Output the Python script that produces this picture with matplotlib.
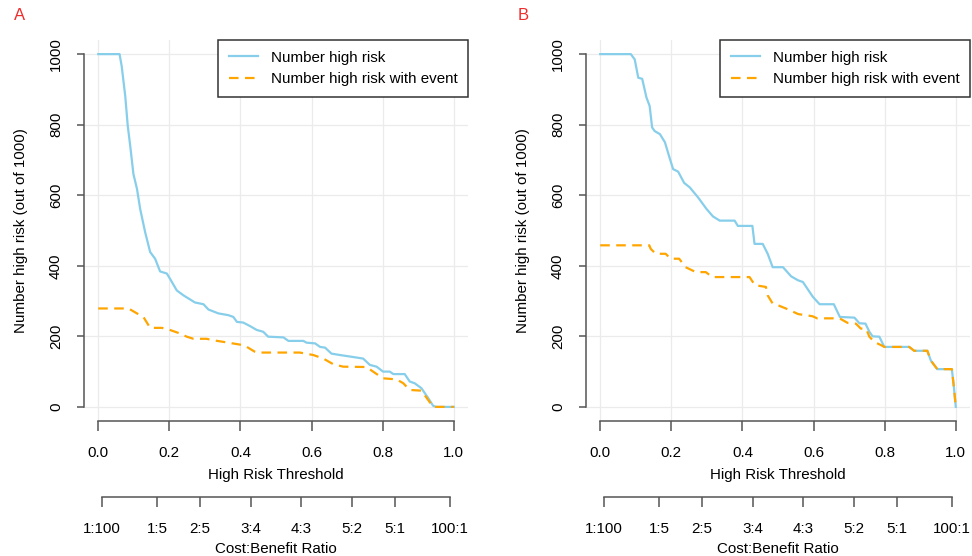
import matplotlib
matplotlib.use("Agg")
import matplotlib.pyplot as plt

plt.rcParams["font.family"] = ["Liberation Sans", "DejaVu Sans"]
plt.rcParams["font.size"] = 10.9

# Panel A: number high risk / with event (out of 1000) vs threshold
thr_a_risk = [0, 0.060, 0.066, 0.076, 0.083, 0.090, 0.099, 0.109, 0.118, 0.132, 0.146, 0.160,
              0.174, 0.193, 0.202, 0.221, 0.240, 0.272, 0.296, 0.310, 0.338, 0.366, 0.380, 0.390,
              0.408, 0.427, 0.446, 0.464, 0.478, 0.521, 0.535, 0.577, 0.586, 0.610, 0.624, 0.638,
              0.656, 0.680, 0.713, 0.745, 0.764, 0.783, 0.801, 0.820, 0.830, 0.862, 0.876, 0.890,
              0.909, 0.928, 0.942, 0.950, 1.0]
num_a_risk = [1000, 1000, 966, 881, 797, 740, 660, 618, 561, 495, 439, 420,
              384, 378, 363, 330, 316, 296, 291, 276, 265, 260, 255, 241,
              239, 229, 218, 213, 199, 197, 187, 187, 182, 180, 170, 168,
              151, 147, 142, 137, 119, 114, 100, 100, 93, 93, 72, 67,
              53, 25, 3, 0, 0]
thr_a_event = [0, 0.085, 0.109, 0.127, 0.146, 0.179, 0.202, 0.230, 0.249, 0.268, 0.305, 0.323,
               0.366, 0.408, 0.418, 0.441, 0.446, 0.567, 0.605, 0.633, 0.661, 0.689, 0.755, 0.773,
               0.801, 0.839, 0.858, 0.876, 0.909, 0.942, 1.0]
num_a_event = [279, 279, 265, 255, 224, 224, 218, 208, 199, 193, 193, 189,
               182, 175, 170, 156, 154, 154, 147, 137, 121, 114, 113, 100,
               81, 78, 67, 48, 46, 0, 0]

# Panel B
thr_b_risk = [0, 0.086, 0.097, 0.107, 0.118, 0.130, 0.139, 0.146, 0.153, 0.168, 0.182, 0.196,
              0.205, 0.219, 0.236, 0.252, 0.275, 0.299, 0.317, 0.336, 0.378, 0.387, 0.428, 0.434,
              0.457, 0.471, 0.485, 0.514, 0.537, 0.556, 0.570, 0.598, 0.617, 0.657, 0.674, 0.715,
              0.729, 0.746, 0.757, 0.766, 0.785, 0.799, 0.869, 0.883, 0.920, 0.930, 0.948, 0.989,
              0.995, 1.0]
num_b_risk = [1000, 1000, 985, 933, 930, 877, 853, 792, 782, 773, 750, 703,
              674, 667, 635, 622, 594, 561, 540, 528, 528, 513, 513, 462,
              462, 434, 396, 396, 370, 359, 354, 312, 291, 291, 255, 253,
              237, 236, 213, 200, 199, 170, 170, 159, 159, 131, 107, 107,
              53, 0]
thr_b_event = [0, 0.138, 0.142, 0.156, 0.184, 0.198, 0.222, 0.240, 0.269, 0.297, 0.315, 0.420,
               0.435, 0.466, 0.471, 0.485, 0.500, 0.522, 0.557, 0.597, 0.610, 0.673, 0.696, 0.719,
               0.733, 0.748, 0.757, 0.771, 0.790, 0.799, 0.869, 0.883, 0.920, 0.930, 0.948, 0.989,
               0.995, 1.0]
num_b_event = [458, 458, 448, 434, 434, 420, 420, 396, 382, 382, 368, 368,
               345, 340, 316, 293, 288, 279, 263, 257, 251, 251, 238, 236,
               222, 221, 199, 184, 175, 170, 170, 159, 159, 131, 107, 107,
               53, 0]

x_ticks = [0.0, 0.2, 0.4, 0.6, 0.8, 1.0]
y_ticks = [0, 200, 400, 600, 800, 1000]
cb_labels = ["1:100", "1:5", "2:5", "3:4", "4:3", "5:2", "5:1", "100:1"]
cb_cost = [1, 1, 2, 3, 4, 5, 5, 100]
cb_benefit = [100, 5, 5, 4, 3, 2, 1, 1]

panels = [
    ("A", 84, 20, thr_a_risk, num_a_risk, thr_a_event, num_a_event),
    ("B", 586, 523, thr_b_risk, num_b_risk, thr_b_event, num_b_event),
]

W, H = 972, 556
fig = plt.figure(figsize=(W / 100, H / 100), dpi=100)

for letter, left_px, letter_x, tr, nr, te, ne in panels:
    ax = fig.add_axes([left_px / W, 1 - 421 / H, 384 / W, 381 / H])
    ax.plot(tr, nr, color="#87CEEB", lw=1.6, label="Number high risk", zorder=3)
    ax.plot(te, ne, color="#FFA500", lw=1.6, dashes=(4.3, 2.9), label="Number high risk with event", zorder=4)

    ax.set_xlim(-0.04, 1.04)
    ax.set_ylim(-40, 1040)
    ax.set_xticks(x_ticks)
    ax.set_xticklabels([f"{v:.1f}" for v in x_ticks])
    ax.set_yticks(y_ticks)
    ax.set_yticklabels([str(v) for v in y_ticks], rotation=90, va="center")
    ax.grid(True, color="#EBEBEB", lw=0.9)
    ax.set_axisbelow(True)

    for s in ["top", "right"]:
        ax.spines[s].set_visible(False)
    ax.spines["left"].set_bounds(0, 1000)
    ax.spines["bottom"].set_bounds(0, 1)
    for s in ["left", "bottom"]:
        ax.spines[s].set_color("#555555")
        ax.spines[s].set_linewidth(1.1)
    ax.tick_params(axis="y", direction="out", length=4.8, width=1.1, color="#555555", pad=10.3)
    ax.tick_params(axis="x", direction="out", length=7.2, width=1.1, color="#555555", pad=11)
    ax.set_xlabel("High Risk Threshold", labelpad=5.6)
    ax.set_ylabel("Number high risk (out of 1000)", labelpad=15)

    # second axis: cost:benefit ratio
    sec = ax.secondary_xaxis(-0.2)
    cb_pos = [c / (c + b) for c, b in zip(cb_cost, cb_benefit)]
    sec.set_xticks(cb_pos)
    sec.set_xticklabels(cb_labels)
    sec.spines["bottom"].set_bounds(cb_pos[0], cb_pos[-1])
    sec.spines["bottom"].set_color("#555555")
    sec.spines["bottom"].set_linewidth(1.1)
    sec.tick_params(direction="out", length=7.2, width=1.1, color="#555555", pad=11)
    sec.set_xlabel("Cost:Benefit Ratio", labelpad=4)

    leg = ax.legend(loc="upper right", borderaxespad=0, fancybox=False, framealpha=1,
                    handlelength=1.92, borderpad=0.7, labelspacing=0.5, handletextpad=0.86)
    leg.get_frame().set_edgecolor("#333333")
    leg.get_frame().set_linewidth(1.1)

    fig.text(letter_x / W, 1 - 16 / H, letter, color="#EE2C2C", fontsize=12, ha="center", va="center")

fig.savefig("out.png", dpi=100)
